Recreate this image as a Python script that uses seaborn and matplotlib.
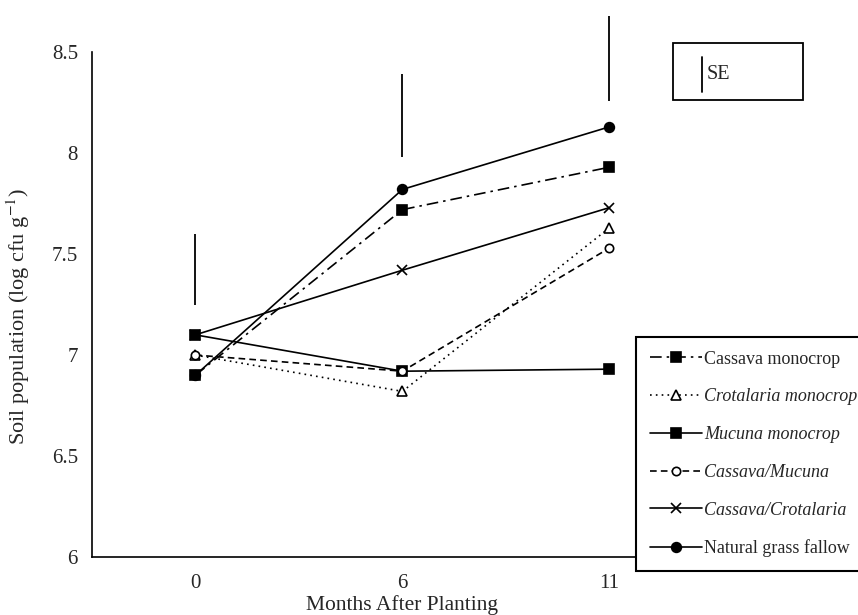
import matplotlib
matplotlib.use("Agg")
import matplotlib.pyplot as plt
import seaborn as sns
import pandas as pd
from matplotlib.patches import Rectangle
from matplotlib.lines import Line2D

# ---- data ----
months = ["0", "6", "11"]
cassava_mono = [6.90, 7.72, 7.93]
crotalaria_mono = [7.00, 6.82, 7.63]
mucuna_mono = [7.10, 6.92, 6.93]
cassava_mucuna = [7.00, 6.92, 7.53]
cassava_crotalaria = [7.10, 7.42, 7.73]
natural_fallow = [6.90, 7.82, 8.13]
se_low = [7.25, 7.98, 8.26]
se_high = [7.60, 8.39, 8.68]

series_names = ["Cassava monocrop", "Crotalaria monocrop", "Mucuna monocrop",
                "Cassava/Mucuna", "Cassava/Crotalaria", "Natural grass fallow"]
series_values = [cassava_mono, crotalaria_mono, mucuna_mono,
                 cassava_mucuna, cassava_crotalaria, natural_fallow]
italic_names = {"Crotalaria monocrop", "Mucuna monocrop",
                "Cassava/Mucuna", "Cassava/Crotalaria"}

styles = {
    "Cassava monocrop": dict(ls=(0, (7, 3, 1.5, 3)), marker="s", ms=7, mfc="black"),
    "Crotalaria monocrop": dict(ls=(0, (1, 2.5)), marker="^", ms=7, mfc="white"),
    "Mucuna monocrop": dict(ls="-", marker="s", ms=7, mfc="black"),
    "Cassava/Mucuna": dict(ls=(0, (4, 2.5)), marker="o", ms=6, mfc="white"),
    "Cassava/Crotalaria": dict(ls="-", marker="x", ms=7, mfc="black"),
    "Natural grass fallow": dict(ls="-", marker="o", ms=7, mfc="black"),
}

sns.set_theme(style="white")
plt.rcParams["font.family"] = ["Liberation Serif", "DejaVu Serif"]
plt.rcParams["mathtext.fontset"] = "stix"

fig = plt.figure(figsize=(8.58, 6.15), dpi=100)
ax = fig.add_axes([0.107, 0.0943, 0.724, 0.821])

handles = []
for name, vals in zip(series_names, series_values):
    df = pd.DataFrame({"Month": months, "Value": vals})
    st = styles[name]
    sns.lineplot(data=df, x="Month", y="Value", ax=ax, sort=False,
                 color="black", linewidth=1.2, linestyle=st["ls"],
                 marker=st["marker"], markersize=st["ms"],
                 markerfacecolor=st["mfc"], markeredgecolor="black",
                 markeredgewidth=1.2)
    handles.append(Line2D([], [], color="black", linewidth=1.2, linestyle=st["ls"],
                          marker=st["marker"], markersize=st["ms"],
                          markerfacecolor=st["mfc"], markeredgecolor="black",
                          markeredgewidth=1.2))

# SE bars
ax.vlines(months, se_low, se_high, colors="black", linewidth=1.3, clip_on=False)

ax.set_xlim(-0.5, 2.5)
ax.set_ylim(6, 8.5)
ax.set_yticks([6, 6.5, 7, 7.5, 8, 8.5])
ax.set_yticklabels(["6", "6.5", "7", "7.5", "8", "8.5"])
ax.set_xticks([0, 1, 2])
ax.set_xticklabels(months)
ax.set_xticks([0.5, 1.5], minor=True)
ax.tick_params(axis="x", which="major", length=0, pad=12, labelsize=15)
ax.tick_params(axis="x", which="minor", length=4, direction="inout", width=1, color="black")
ax.tick_params(axis="y", length=4, width=1, direction="out", pad=6, labelsize=15, color="black")
ax.set_xlabel("Months After Planting", fontsize=15.5, labelpad=2)
ax.set_ylabel("Soil population (log cfu g$^{-1}$)", fontsize=16)
ax.yaxis.label.set_va("center")
ax.yaxis.set_label_coords(-0.119, 0.477)
for s in ["top", "right"]:
    ax.spines[s].set_visible(False)
for s in ["left", "bottom"]:
    ax.spines[s].set_color("black")
    ax.spines[s].set_linewidth(1.2)
ax.grid(False)

leg = fig.legend(handles, series_names, loc="upper left",
                 bbox_to_anchor=(0.7413, 0.452), fontsize=13,
                 frameon=True, fancybox=False, edgecolor="black",
                 framealpha=1, handlelength=2.9, labelspacing=1.15,
                 borderpad=0.75, handletextpad=0.1, borderaxespad=0)
leg.get_frame().set_linewidth(1.5)
for t in leg.get_texts():
    if t.get_text() in italic_names:
        t.set_style("italic")

# SE key box
fig.add_artist(Rectangle((0.7844, 0.8374), 0.1515, 0.0927, transform=fig.transFigure,
                         fill=False, edgecolor="black", linewidth=1.3))
fig.add_artist(Line2D([0.818, 0.818], [0.850, 0.907], transform=fig.transFigure,
                      color="black", linewidth=1.3))
fig.text(0.824, 0.879, "SE", fontsize=14.5, va="center", ha="left")

fig.savefig("out.png", dpi=100)
